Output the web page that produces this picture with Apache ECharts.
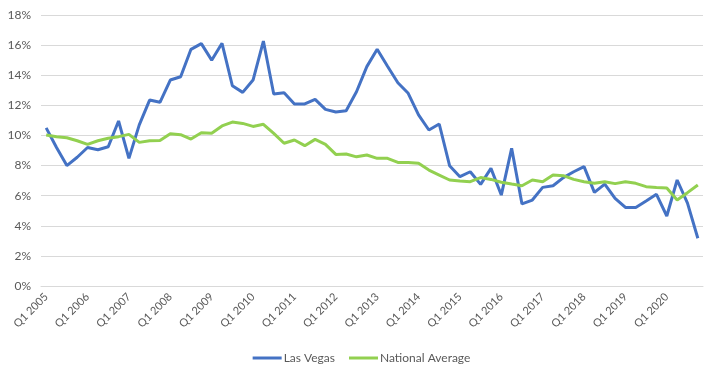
<!DOCTYPE html>
<html>
<head>
<meta charset="utf-8">
<script src="https://cdn.jsdelivr.net/npm/echarts@6/dist/echarts.min.js"></script>
<style>html,body{margin:0;padding:0;background:#fff;}#c{width:723px;height:374px;}</style>
</head>
<body>
<div id="c"></div>
<script>
const years = [];
for (let y = 2005; y <= 2020; y++) years.push(y);
const categories = [];
years.forEach(y => { ['Q1','Q2','Q3','Q4'].forEach(q => categories.push(q + ' ' + y)); });

const lasVegas = [
  10.5, 9.2, 8.0, 8.55, 9.2, 9.05, 9.25, 10.96,
  8.48, 10.7, 12.35, 12.2, 13.68, 13.9, 15.72, 16.1,
  15.0, 16.12, 13.3, 12.86, 13.68, 16.27, 12.75, 12.84,
  12.09, 12.09, 12.4, 11.73, 11.56, 11.64, 12.9, 14.57,
  15.72, 14.6, 13.5, 12.8, 11.36, 10.36, 10.76, 7.99,
  7.26, 7.59, 6.75, 7.81, 6.04, 9.14, 5.45, 5.71,
  6.55, 6.66, 7.2, 7.59, 7.93, 6.22, 6.77, 5.82,
  5.22, 5.22, 5.65, 6.09, 4.65, 7.04, 5.5, 3.17
];
const nationalAverage = [
  10.03, 9.92, 9.85, 9.65, 9.41, 9.65, 9.81, 9.92,
  10.07, 9.54, 9.65, 9.67, 10.12, 10.05, 9.76, 10.18,
  10.14, 10.63, 10.89, 10.8, 10.6, 10.74, 10.14, 9.48,
  9.7, 9.32, 9.74, 9.41, 8.74, 8.77, 8.58, 8.7,
  8.48, 8.48, 8.21, 8.21, 8.15, 7.7, 7.37, 7.04,
  6.97, 6.93, 7.2, 7.08, 6.89, 6.77, 6.66, 7.04,
  6.93, 7.37, 7.33, 7.08, 6.93, 6.82, 6.93, 6.8,
  6.93, 6.82, 6.6, 6.55, 6.51, 5.71, 6.2, 6.71
];
const seriesNames = ['Las Vegas', 'National Average'];

const chart = echarts.init(document.getElementById('c'), null, {renderer: 'canvas'});
const font = 'Lato, "Open Sans", sans-serif';
chart.setOption({
  animation: false,
  backgroundColor: '#ffffff',
  grid: {left: 41, right: 20, top: 15, bottom: 88, containLabel: false},
  legend: {
    top: 347, left: 'center',
    data: seriesNames,
    icon: 'rect', itemWidth: 29, itemHeight: 3, itemGap: 14,
    textStyle: {color: '#595959', fontSize: 12, fontFamily: font, padding: [0, 0, 0, -3]}
  },
  xAxis: {
    type: 'category',
    data: categories,
    boundaryGap: true,
    axisLine: {show: true, lineStyle: {color: '#d9d9d9', width: 1}},
    axisTick: {show: false},
    axisLabel: {
      interval: 3, rotate: 45, color: '#595959', fontSize: 11, fontFamily: font, margin: 9
    }
  },
  yAxis: {
    type: 'value', min: 0, max: 18, interval: 2,
    axisLine: {show: false}, axisTick: {show: false},
    splitLine: {lineStyle: {color: '#d9d9d9', width: 1}},
    axisLabel: {formatter: '{value}%', color: '#595959', fontSize: 12, fontFamily: font, margin: 10}
  },
  series: [
    {name: seriesNames[0], type: 'line', data: lasVegas, showSymbol: false, symbol: 'none',
     lineStyle: {color: '#4472C4', width: 3}, itemStyle: {color: '#4472C4'}},
    {name: seriesNames[1], type: 'line', data: nationalAverage, showSymbol: false, symbol: 'none',
     lineStyle: {color: '#92D050', width: 3}, itemStyle: {color: '#92D050'}}
  ]
});
</script>
</body>
</html>
